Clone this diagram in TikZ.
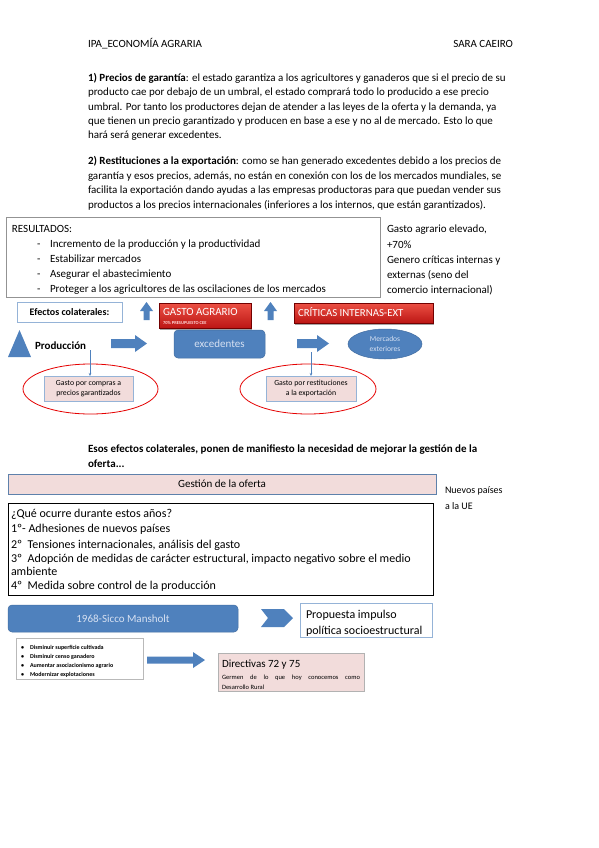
\documentclass[tikz,border=0pt]{standalone}
\usepackage{fontspec}
\setmainfont{Carlito}
\usetikzlibrary{shapes.geometric,shadows,arrows.meta}
\definecolor{obl}{RGB}{79,129,189}
\definecolor{pinkf}{RGB}{242,220,219}
\definecolor{lbl}{RGB}{149,179,215}
\definecolor{redt}{RGB}{236,80,68}
\definecolor{redb}{RGB}{188,22,20}
\definecolor{ltxt}{RGB}{215,225,242}
\begin{document}
\begin{tikzpicture}[x=1pt,y=-1pt,
  every node/.style={inner sep=0pt,outer sep=0pt},
  body/.style={font=\fontsize{11}{13}\selectfont,anchor=base west},
  bodyb/.style={font=\fontsize{11}{13}\selectfont\bfseries,anchor=base west},
  big/.style={font=\fontsize{12}{14}\selectfont,anchor=base west},
  tiny/.style={font=\fontsize{6}{7}\selectfont\bfseries,anchor=base west},
  redbox/.style={top color=redt,bottom color=redb,draw=red!45!black,line width=0.4pt,
     drop shadow={shadow xshift=1.2pt,shadow yshift=-1.5pt,opacity=0.7},anchor=north west},
  thinarr/.style={draw=obl,line width=0.5pt,-{Stealth[length=3pt,width=2.5pt]}},
  redell/.style={ellipse,draw=red!90!black,line width=0.8pt},
  gbox/.style={fill=pinkf,draw=lbl,line width=0.5pt,align=center,font=\fontsize{7.8}{10.5}\selectfont},
  softshadow/.style={drop shadow={shadow xshift=1pt,shadow yshift=-1pt,opacity=0.3}}
]
\fill[white] (0,0) rectangle (599,848);
\useasboundingbox (0,0) rectangle (599,848);

% header
\node[body] (hdrL) at (88,47.5) {IPA\_ECONOMÍA AGRARIA};
\node[body,anchor=base east] (hdrR) at (513,47.5) {SARA CAEIRO};

% paragraph 1
\node[body] (p1a) at (88,81.5) {\textbf{1) Precios de garantía}: el estado garantiza a los agricultores y ganaderos que si el precio de su};
\node[body] (p1b) at (88,95.8) {producto cae por debajo de un umbral, el estado comprará todo lo producido a ese precio};
\node[body] (p1c) at (88,110.1) {umbral. Por tanto los productores dejan de atender a las leyes de la oferta y la demanda, ya};
\node[body] (p1d) at (88,124.4) {que tienen un precio garantizado y producen en base a ese y no al de mercado. Esto lo que};
\node[body] (p1e) at (88,138.7) {hará será generar excedentes.};

% paragraph 2
\node[body] (p2a) at (88,164.5) {\textbf{2) Restituciones a la exportación}: como se han generado excedentes debido a los precios de};
\node[body] (p2b) at (88,179) {garantía y esos precios, además, no están en conexión con los de los mercados mundiales, se};
\node[body] (p2c) at (88,193.5) {facilita la exportación dando ayudas a las empresas productoras para que puedan vender sus};
\node[body] (p2d) at (88,208) {productos a los precios internacionales (inferiores a los internos, que están garantizados).};

% resultados
\node[draw=gray!85,line width=0.6pt,minimum width=374pt,minimum height=80pt,anchor=north west] (res) at (6,217) {};
\node[body] (r0) at (12,232.5) {RESULTADOS:};
\node[body] (r1d) at (37,247.5) {-};
\node[body] (r1) at (50,247.5) {Incremento de la producción y la productividad};
\node[body] (r2d) at (37,262.5) {-};
\node[body] (r2) at (50,262.5) {Estabilizar mercados};
\node[body] (r3d) at (37,277.5) {-};
\node[body] (r3) at (50,277.5) {Asegurar el abastecimiento};
\node[body] (r4d) at (37,292.5) {-};
\node[body] (r4) at (50,292.5) {Proteger a los agricultores de las oscilaciones de los mercados};

\node[body] (s1) at (387,232.5) {Gasto agrario elevado,};
\node[body] (s2) at (387,248) {+70\%};
\node[body] (s3) at (387,263.5) {Genero críticas internas y};
\node[body] (s4) at (387,278.5) {externas (seno del};
\node[body] (s5) at (387,293.5) {comercio internacional)};

% efectos colaterales row
\node[draw=lbl,line width=0.6pt,fill=white,minimum width=105pt,minimum height=20pt,font=\fontsize{10}{12}\selectfont\bfseries] (efc) at (69.5,312.5) {Efectos colaterales:};
\fill[obl] (140,311) -- (146.5,302) -- (153,311) -- (149.5,311) -- (149.5,320) -- (143.5,320) -- (143.5,311) -- cycle;
\node[redbox,minimum width=92pt,minimum height=25pt] (gasto) at (159,303) {};
\node[font=\fontsize{11}{12}\selectfont,text=white,anchor=base west] (gastoT) at (163,315) {GASTO AGRARIO};
\node[font=\fontsize{4.5}{5}\selectfont\bfseries,text=white!85!red,anchor=base west] (gastoS) at (163,324.5) {70\% PRESUPUESTO CEE};
\fill[obl] (264,311) -- (270.5,302) -- (277,311) -- (273.5,311) -- (273.5,320) -- (267.5,320) -- (267.5,311) -- cycle;
\node[redbox,minimum width=139pt,minimum height=20pt] (crit) at (294,303) {};
\node[font=\fontsize{10.8}{12}\selectfont,text=white,anchor=base west] (critT) at (298,316.5) {CRÍTICAS INTERNAS-EXT};

% production row
\fill[obl] (8,357) -- (19.5,330) -- (31,357) -- cycle;
\node[bodyb] (prod) at (35,349) {Producción};
\fill[obl] (111,339) -- (135,339) -- (135,335) -- (147,343.5) -- (135,352) -- (135,348) -- (111,348) -- cycle;
\node[fill=obl,draw=obl!85!black,line width=0.5pt,rounded corners=4pt,minimum width=91pt,minimum height=28pt,font=\fontsize{11}{13}\selectfont,text=ltxt] (exc) at (219.5,344) {excedentes};
\fill[obl] (297,339) -- (317,339) -- (317,335) -- (329,343.5) -- (317,352) -- (317,348) -- (297,348) -- cycle;
\node[ellipse,fill=obl,draw=obl!85!black,line width=0.5pt,minimum width=74pt,minimum height=30pt,align=center,font=\fontsize{7.5}{9.5}\selectfont,text=ltxt] (merc) at (385,344) {Mercados\\exteriores};

% gasto boxes
\node[gbox,minimum width=89pt,minimum height=25pt] (g1) at (88.5,388.5) {Gasto por compras a\\precios garantizados};
\node[gbox,minimum width=90pt,minimum height=25pt] (g2) at (311,388.5) {Gasto por restituciones\\a la exportación};
\node[redell,minimum width=135pt,minimum height=50pt] (e1) at (90.5,389) {};
\node[redell,minimum width=136pt,minimum height=50pt] (e2) at (308,389) {};
\coordinate (pa) at (90,350);
\coordinate (pb) at (311,352);
\draw[thinarr] (pa) -- (pa |- g1.north);
\draw[thinarr] (pb) -- (g2.north);

% esos efectos
\node[bodyb] (esos1) at (88,452) {Esos efectos colaterales, ponen de manifiesto la necesidad de mejorar la gestión de la};
\node[bodyb] (esos2) at (88,467) {oferta...};

\node[fill=pinkf,draw=obl!70!gray,line width=0.6pt,minimum width=428pt,minimum height=20pt,font=\fontsize{11}{13}\selectfont] (gest) at (222,484) {Gestión de la oferta};
\node[font=\fontsize{10}{12}\selectfont,anchor=base west] (nv1) at (445,493.5) {Nuevos países};
\node[font=\fontsize{10}{12}\selectfont,anchor=base west] (nv2) at (445,509.5) {a la UE};

% question box
\node[draw=black,line width=0.6pt,minimum width=425pt,minimum height=92pt,anchor=north west] (q) at (8,503) {};
\node[big] (q0) at (11,517) {¿Qué ocurre durante estos años?};
\node[big] (q1) at (11,532) {1º- Adhesiones de nuevos países};
\node[big] (q2) at (11,548) {2º\ \ Tensiones internacionales, análisis del gasto};
\node[big] (q3) at (11,562) {3º\ \ Adopción de medidas de carácter estructural, impacto negativo sobre el medio};
\node[big] (q3b) at (11,575.5) {ambiente};
\node[big] (q4) at (11,589) {4º\ \ Medida sobre control de la producción};

% mansholt
\node[fill=obl,draw=obl!85!black,line width=0.5pt,rounded corners=4pt,minimum width=230pt,minimum height=27pt,font=\fontsize{11}{13}\selectfont,text=ltxt] (sicco) at (123,618.5) {1968-Sicco Mansholt};
\fill[obl] (261,609) -- (284,609) -- (293,618) -- (284,627) -- (261,627) -- (268,618) -- cycle;
\node[draw=lbl,line width=0.6pt,fill=white,minimum width=132pt,minimum height=34pt,anchor=north west,softshadow] (prop) at (300,603) {};
\node[big] (prop1) at (306,618.5) {Propuesta impulso};
\node[big] (prop2) at (306,634) {política socioestructural};

% bullet box
\node[draw=gray!55,line width=0.5pt,fill=white,minimum width=127pt,minimum height=41pt,anchor=north west,softshadow] (bl) at (16,638) {};
\node[tiny] (b1d) at (21,649) {•};
\node[tiny] (b1) at (30,649) {Disminuir superficie cultivada};
\node[tiny] (b2d) at (21,658) {•};
\node[tiny] (b2) at (30,658) {Disminuir censo ganadero};
\node[tiny] (b3d) at (21,667) {•};
\node[tiny] (b3) at (30,667) {Aumentar asociacionismo agrario};
\node[tiny] (b4d) at (21,676) {•};
\node[tiny] (b4) at (30,676) {Modernizar explotaciones};

\fill[obl] (147,656.5) -- (193,656.5) -- (193,652) -- (205,660) -- (193,668) -- (193,663.5) -- (147,663.5) -- cycle;

% directivas
\node[fill=pinkf,draw=gray!60,line width=0.5pt,minimum width=146pt,minimum height=38pt,anchor=north west,softshadow] (dir) at (218,653) {};
\node[font=\fontsize{11}{13}\selectfont,anchor=base west] (dirT) at (222,667) {Directivas 72 y 75};
\node[font=\fontsize{6.5}{8}\selectfont,anchor=base west] (dirS1) at (222,679.5) {\makebox[138pt][s]{Germen de lo que hoy conocemos como}};
\node[font=\fontsize{6.5}{8}\selectfont,anchor=base west] (dirS2) at (222,689) {Desarrollo Rural};
\end{tikzpicture}
\end{document}
